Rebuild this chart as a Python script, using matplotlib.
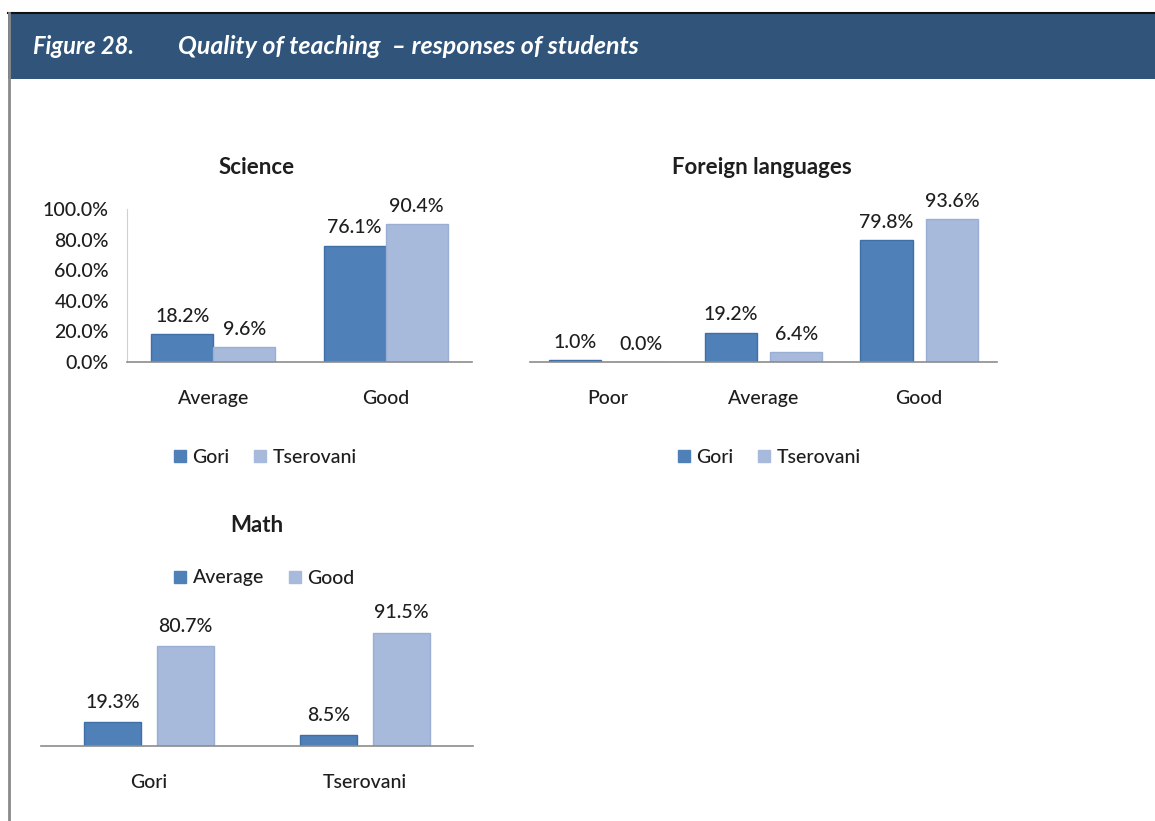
import matplotlib.pyplot as plt
import numpy as np
from matplotlib.patches import Rectangle
from matplotlib.lines import Line2D

# data
sci_cats = ['Average', 'Good']
sci_gori = [18.2, 76.1]
sci_tser = [9.6, 90.4]

lang_cats = ['Poor', 'Average', 'Good']
lang_gori = [1.0, 19.2, 79.8]
lang_tser = [0.0, 6.4, 93.6]

math_cats = ['Gori', 'Tserovani']
math_avg = [19.3, 8.5]
math_good = [80.7, 91.5]

yticks = [0, 20, 40, 60, 80, 100]

dark = '#4f80b8'
dark_edge = '#3f6fa5'
light = '#a7badb'
light_edge = '#9aafd3'
header = '#30547a'
txt = '#1e1e1e'
fs = 14
fw = 'medium'

plt.rcParams['font.family'] = ['Lato', 'DejaVu Sans']

W, H = 1155, 821
fig = plt.figure(figsize=(W / 100, H / 100), dpi=100)
fig.patch.set_facecolor('white')


def px_axes(left, right, bottom, top):
    """ axes from pixel box (top-left origin) """
    return fig.add_axes([left / W, 1 - bottom / H, (right - left) / W, (bottom - top) / H])


def style(ax, cats, left_spine=False):
    for s in ['top', 'right']:
        ax.spines[s].set_visible(False)
    ax.spines['left'].set_visible(left_spine)
    ax.spines['left'].set_color('#d0d0d0')
    ax.spines['bottom'].set_color('#8c8c8c')
    ax.spines['bottom'].set_linewidth(1.2)
    ax.set_xticks(range(len(cats)))
    ax.set_xticklabels(cats, fontsize=fs, color=txt, fontweight=fw)
    ax.tick_params(axis='x', length=0, pad=20.5)
    ax.set_xlim(-0.5, len(cats) - 0.5)
    ax.set_ylim(0, 100)


def labels(ax, bars, vals, dy=6):
    for b, v in zip(bars, vals):
        ax.text(b.get_x() + b.get_width() / 2, v + dy, '%.1f%%' % v, ha='center',
                va='bottom', fontsize=fs, color=txt, fontweight=fw, clip_on=False)


def sq_legend(names, cols, x, y):
    hs = [Line2D([], [], marker='s', ls='', markersize=8, color=c) for c in cols]
    fig.legend(hs, names, loc='center', bbox_to_anchor=(x / W, 1 - y / H), ncol=2,
               frameon=False, fontsize=fs, handletextpad=0.2, columnspacing=1.1,
               handlelength=0.9, labelcolor=txt, prop={'size': fs, 'weight': fw})


# header band
fig.patches.append(Rectangle((8 / W, 1 - 79 / H), 1 - 8 / W, 66 / H, transform=fig.transFigure,
                             facecolor=header, edgecolor='none'))
fig.add_artist(Line2D([8 / W, 1], [1 - 13 / H, 1 - 13 / H], transform=fig.transFigure,
                      color='#111111', lw=1.5))
fig.add_artist(Line2D([9 / W, 9 / W], [0, 1 - 13 / H], transform=fig.transFigure,
                      color='#8a8a8a', lw=2))
fig.text(33 / W, 1 - 46 / H, 'Figure 28.', color='white', fontsize=17, style='italic',
         fontweight='bold', va='center')
fig.text(178 / W, 1 - 46 / H, 'Quality of teaching  \u2013 responses of students', color='white',
         fontsize=18, style='italic', fontweight='bold', va='center')

# Science
ax1 = px_axes(127, 472, 362, 209)
x = np.arange(len(sci_cats))
w = 0.36
b1 = ax1.bar(x - w / 2, sci_gori, w, color=dark, edgecolor=dark_edge, lw=1)
b2 = ax1.bar(x + w / 2, sci_tser, w, color=light, edgecolor=light_edge, lw=1)
style(ax1, sci_cats, left_spine=True)
ax1.set_yticks(yticks)
ax1.set_yticklabels(['%.1f%%' % t for t in yticks], fontsize=fs, color=txt, fontweight=fw)
ax1.tick_params(axis='y', length=0, pad=13)
labels(ax1, b1, sci_gori)
labels(ax1, b2, sci_tser)
fig.text(257 / W, 1 - 168 / H, 'Science', ha='center', va='center', fontsize=16,
         fontweight='bold', color=txt)
sq_legend(['Gori', 'Tserovani'], [dark, light], 264, 457)

# Foreign languages
ax2 = px_axes(530, 997, 362, 209)
x = np.arange(len(lang_cats))
w = 0.335
b1 = ax2.bar(x - 0.21, lang_gori, w, color=dark, edgecolor=dark_edge, lw=1)
b2 = ax2.bar(x + 0.21, lang_tser, w, color=light, edgecolor=light_edge, lw=1)
style(ax2, lang_cats)
ax2.set_yticks([])
labels(ax2, b1, lang_gori)
labels(ax2, b2, lang_tser)
fig.text(762 / W, 1 - 168 / H, 'Foreign languages', ha='center', va='center', fontsize=16,
         fontweight='bold', color=txt)
sq_legend(['Gori', 'Tserovani'], [dark, light], 768, 457)

# Math
ax3 = px_axes(41, 473, 746, 622)
x = np.arange(len(math_cats))
w = 0.264
b1 = ax3.bar(x - 0.167, math_avg, w, color=dark, edgecolor=dark_edge, lw=1)
b2 = ax3.bar(x + 0.167, math_good, w, color=light, edgecolor=light_edge, lw=1)
style(ax3, math_cats)
ax3.set_yticks([])
labels(ax3, b1, math_avg, dy=9)
labels(ax3, b2, math_good, dy=9)
fig.text(257 / W, 1 - 526 / H, 'Math', ha='center', va='center', fontsize=16,
         fontweight='bold', color=txt)
sq_legend(['Average', 'Good'], [dark, light], 263, 578)

fig.savefig('out.png', dpi=100)
